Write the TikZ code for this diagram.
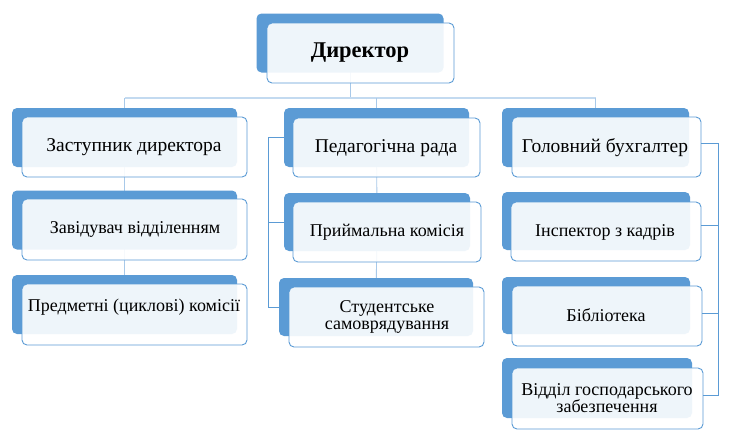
\documentclass[tikz,border=0pt]{standalone}
\usepackage{fontspec}
\setmainfont{LiberationSerif}[Extension=.ttf, UprightFont=*-Regular, BoldFont=*-Bold, ItalicFont=*-Italic, BoldItalicFont=*-BoldItalic]
\usetikzlibrary{calc,backgrounds}
\definecolor{accent}{HTML}{5B9BD5}
\definecolor{busc}{HTML}{C3DAF0}
\definecolor{connc}{HTML}{A8C9E9}
\begin{document}
\begin{tikzpicture}[x=1pt,y=-1pt,
  back/.style={fill=accent, draw=none, rounded corners=5pt, inner sep=0pt, outer sep=0pt},
  front/.style={fill=white, fill opacity=0.9, draw=accent, line width=0.9pt, rounded corners=5pt, inner sep=0pt, outer sep=0pt},
  txt/.style={inner sep=0pt, align=center, text=black},
  big/.style={font=\fontsize{19.5}{20}\selectfont},
  small/.style={font=\fontsize{18}{17}\selectfont},
  conn/.style={draw=connc, line width=0.9pt},
  busline/.style={draw=busc, line width=1.6pt},
  brk/.style={draw=accent, line width=0.8pt}]
\useasboundingbox (0,0) rectangle (730,445);
% director
\node[back, minimum width=187pt, minimum height=59pt] (Db) at (350,43) {};
\node[front, minimum width=187pt, minimum height=60pt] (D) at (360.5,53) {};
\node[txt, font=\bfseries\fontsize{22.5}{24}\selectfont] (Dt) at (360,53) {Директор};
% left column
\node[back, minimum width=225pt, minimum height=59pt] (L1b) at (124.5,137.5) {};
\node[front, minimum width=225pt, minimum height=60pt] (L1) at (134.5,147) {};
\node[txt, big] (L1t) at (134,147) {Заступник директора};
\node[back, minimum width=225pt, minimum height=59pt] (L2b) at (124.5,220) {};
\node[front, minimum width=225pt, minimum height=61pt] (L2) at (134.5,229.5) {};
\node[txt, small] (L2t) at (135,229) {Завідувач відділенням};
\node[back, minimum width=225pt, minimum height=59pt] (L3b) at (124.5,304.5) {};
\node[front, minimum width=225pt, minimum height=61pt] (L3) at (134.5,314.5) {};
\node[txt, small] (L3t) at (134,307) {Предметні (циклові) комісії};
% middle column
\node[back, minimum width=185pt, minimum height=59pt] (M1b) at (376.5,137.5) {};
\node[front, minimum width=187pt, minimum height=59pt] (M1) at (386.5,147.5) {};
\node[txt, big] (M1t) at (386,148) {Педагогічна рада};
\node[back, minimum width=186pt, minimum height=58pt] (M2b) at (377,222) {};
\node[front, minimum width=188pt, minimum height=60pt] (M2) at (387,232) {};
\node[txt, small] (M2t) at (387,232) {Приймальна комісія};
\node[back, minimum width=194pt, minimum height=58pt] (M3b) at (376,307) {};
\node[front, minimum width=195pt, minimum height=60pt] (M3) at (386.5,317) {};
\node[txt, small] (M3t) at (387,316.5) {Студентське\\самоврядування};
% right column
\node[back, minimum width=187pt, minimum height=59pt] (R1b) at (595.5,137.5) {};
\node[front, minimum width=189pt, minimum height=60pt] (R1) at (606.5,147) {};
\node[txt, big] (R1t) at (605,148) {Головний бухгалтер};
\node[back, minimum width=188pt, minimum height=58pt] (R2b) at (596,221) {};
\node[front, minimum width=190pt, minimum height=59pt] (R2) at (606,231.5) {};
\node[txt, small] (R2t) at (605,232) {Інспектор з кадрів};
\node[back, minimum width=188pt, minimum height=57pt] (R3b) at (596,305.5) {};
\node[front, minimum width=190pt, minimum height=60pt] (R3) at (607,316) {};
\node[txt, small] (R3t) at (606,315) {Бібліотека};
\node[back, minimum width=190pt, minimum height=60pt] (R4b) at (597,388) {};
\node[front, minimum width=191pt, minimum height=61pt] (R4) at (607.5,398.5) {};
\node[txt, small] (R4t) at (607,398) {Відділ господарського\\забезпечення};
\coordinate (bus) at (0,98);
\begin{scope}[on background layer]
\fill[white] (0,0) rectangle (730,445);
\draw[conn] (Db.center) -- (Db.center |- bus);
\draw[busline] (L1b.center |- bus) -- (R1b.center |- bus);
\draw[conn] (L1b.center |- bus) -- (L1b.center);
\draw[conn] (M1b.center |- bus) -- (M1b.center);
\draw[conn] (R1b.center |- bus) -- (R1b.center);
\draw[conn] (L1b.center) -- (L2b.center);
\draw[conn] (L2b.center) -- (L3b.center);
\draw[conn] (M1b.center) -- (M2b.center);
\draw[conn] (M2b.center) -- (M3b.center);
\end{scope}
\draw[brk] (M1b.west) -- ++(-16,0) |- (M3b.west);
\draw[brk] (M2b.west) -- ++(-16,0);
\draw[brk] ([yshift=4pt]R1.east) -- ++(17,0) |- ([yshift=3.5pt]R4.east);
\draw[brk] ([yshift=6.5pt]R2.east) -- ++(17,0);
\draw[brk] ([yshift=3pt]R3.east) -- ++(17,0);
\end{tikzpicture}
\end{document}
